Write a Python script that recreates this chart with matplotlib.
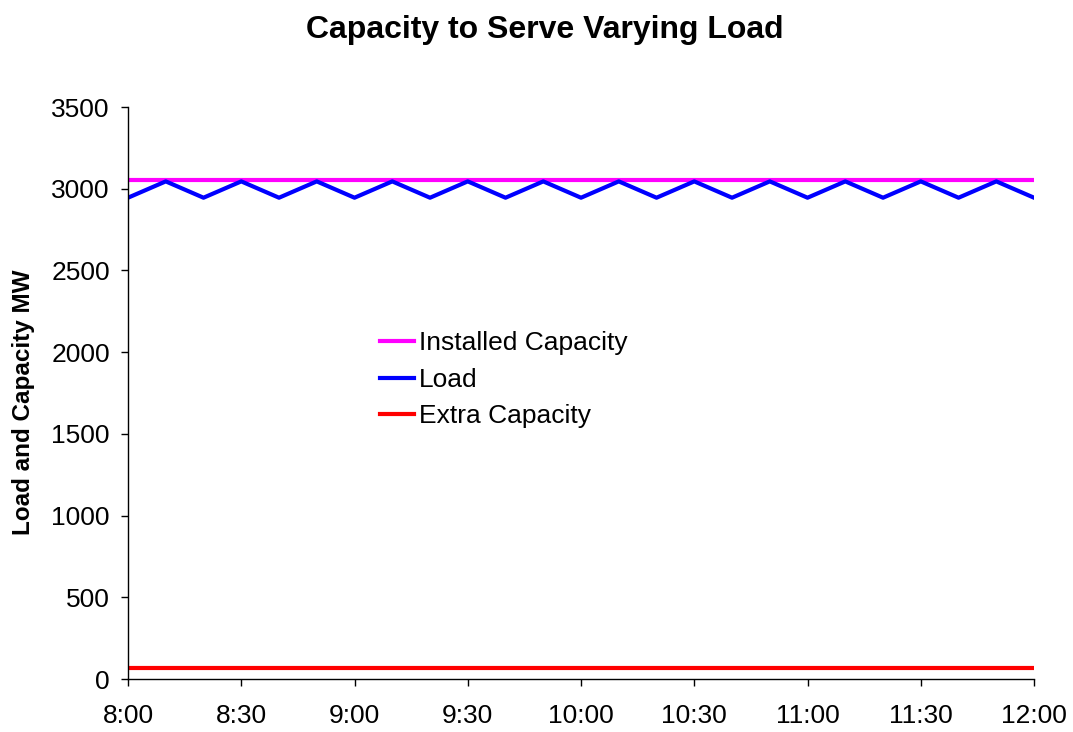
import matplotlib
matplotlib.use("Agg")
import matplotlib.pyplot as plt
import matplotlib.dates as mdates
import pandas as pd

plt.rcParams['font.family'] = ['Liberation Sans', 'DejaVu Sans']

# ten-minute samples from 8:00 to 12:00
times = ["8:00", "8:10", "8:20", "8:30", "8:40", "8:50",
         "9:00", "9:10", "9:20", "9:30", "9:40", "9:50",
         "10:00", "10:10", "10:20", "10:30", "10:40", "10:50",
         "11:00", "11:10", "11:20", "11:30", "11:40", "11:50", "12:00"]
load = [2945, 3045, 2945, 3045, 2945, 3045,
        2945, 3045, 2945, 3045, 2945, 3045,
        2945, 3045, 2945, 3045, 2945, 3045,
        2945, 3045, 2945, 3045, 2945, 3045, 2945]
installed_capacity = [3055] * len(times)
extra_capacity = [65] * len(times)

t = pd.to_datetime(["2000-01-01 " + s for s in times])

fig = plt.figure(figsize=(10.73, 7.32), dpi=100)
ax = fig.add_axes([0.1193, 0.0724, 0.8444, 0.7814])

ax.plot(t, installed_capacity, color='#ff00ff', lw=3, label='Installed Capacity')
ax.plot(t, load, color='#0000ff', lw=3, label='Load')
ax.plot(t, extra_capacity, color='#ff0000', lw=3, label='Extra Capacity')

ax.set_xlim(t[0], t[-1])
ax.set_ylim(0, 3500)
ax.set_yticks(range(0, 3501, 500))
ax.xaxis.set_major_locator(mdates.MinuteLocator(byminute=[0, 30]))
ax.xaxis.set_major_formatter(mdates.DateFormatter('%-H:%M'))

for side in ('top', 'right'):
    ax.spines[side].set_visible(False)
for side in ('left', 'bottom'):
    ax.spines[side].set_color('#000000')
    ax.spines[side].set_linewidth(1)
ax.tick_params(axis='both', direction='out', length=5, width=1, labelsize=19)
ax.tick_params(axis='y', pad=8)
ax.tick_params(axis='x', pad=13)

ax.set_ylabel('Load and Capacity MW', fontsize=17.5, fontweight='bold')
ax.yaxis.set_label_coords(-0.103, 0.484)
fig.suptitle('Capacity to Serve Varying Load', fontsize=23, fontweight='bold',
             x=0.508, y=0.9795)

ax.legend(loc='upper left', bbox_to_anchor=(0.2667, 0.626), frameon=False, fontsize=19,
          handlelength=1.29, handletextpad=0.19, labelspacing=0.47, borderaxespad=0)

fig.savefig('out.png', dpi=100)
